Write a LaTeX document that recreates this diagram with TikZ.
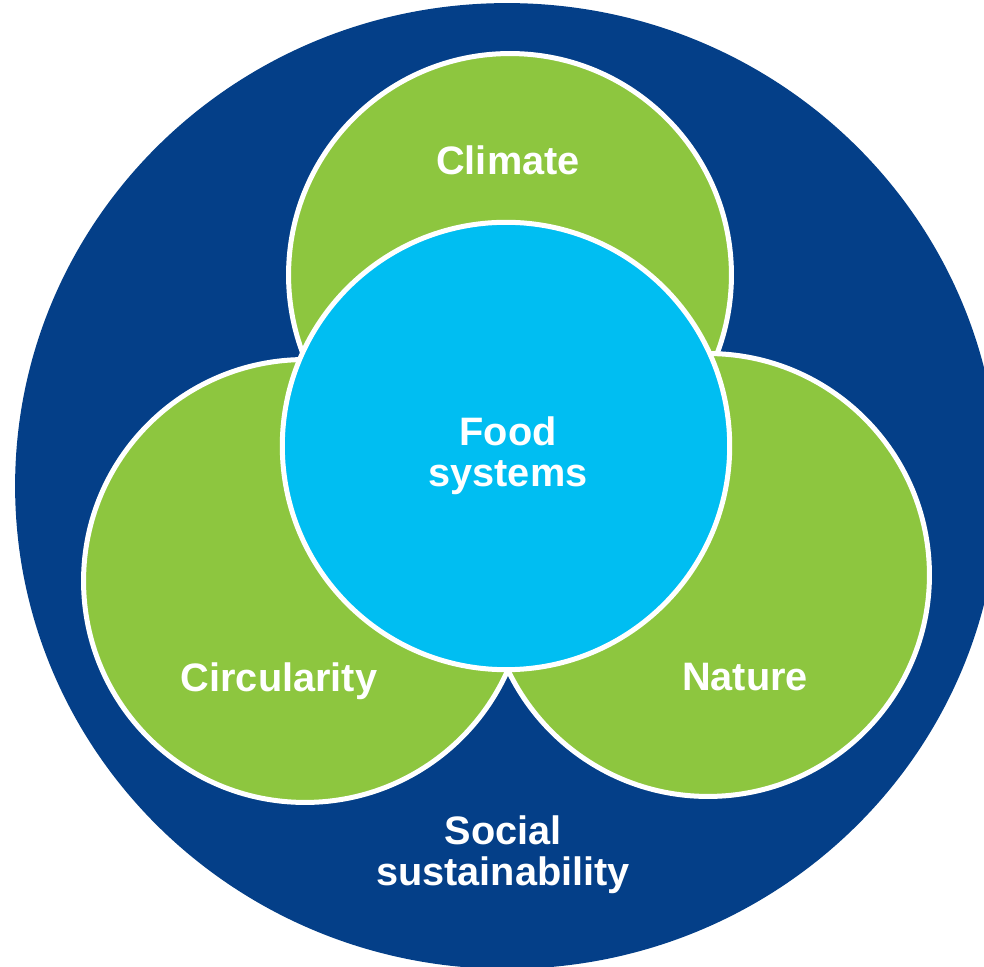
\documentclass[tikz,border=0pt]{standalone}
\usepackage{fontspec}
\setmainfont{Liberation Sans}
\usepackage{xcolor}
\usepackage{tikz}
\usetikzlibrary{positioning}
\definecolor{fsnavy}{HTML}{043F88}
\definecolor{fsgreen}{HTML}{8DC63F}
\definecolor{fscyan}{HTML}{00BEF2}
\tikzset{
  ring/.style={circle,draw=white,line width=2.85pt,inner sep=0pt},
  theme/.style={ring,fill=fsgreen,minimum size=8.86cm},
  core/.style={ring,fill=fscyan,minimum size=8.95cm},
  lbl/.style={text=white,align=center,inner sep=0pt,font=\fontsize{22.6}{23.4}\selectfont\bfseries},
}
\begin{document}
\begin{tikzpicture}[x=0.02cm,y=0.02cm]
  \useasboundingbox (0,0) rectangle (984,967);
  \clip (0,0) rectangle (984,967);
  \fill[fsnavy] (507,481) ellipse [x radius=9.84cm, y radius=9.66cm];
  % the three themes round the core
  \foreach \x/\y/\n in {510/692/climate, 708/392/nature, 305/386/circularity} {
     \node[theme] (\n) at (\x,\y) {};
  }
  \node[core] (food) at (506,521) {};
  \node[lbl] (climatetxt) at (508,807) {Climate};
  \node[lbl] (circtxt) at (279,286) {Circularity};
  \node[lbl] (naturetxt) at (745,290) {Nature};
  \node[lbl] (foodtxt) at (508,511) {Food\\systems};
  \node[lbl] (socialtxt) at (503,112) {Social\\sustainability};
\end{tikzpicture}
\end{document}
